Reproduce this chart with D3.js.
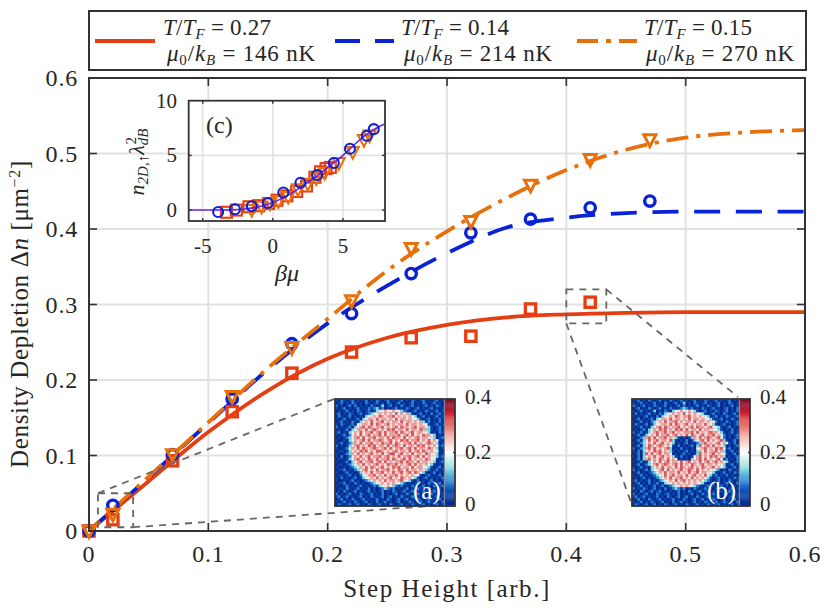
<!DOCTYPE html>
<html><head><meta charset="utf-8"><style>html,body{margin:0;padding:0;background:#fff}svg{display:block}text{font-family:"Liberation Serif",serif;fill:#262626}</style>
<script src="https://cdn.jsdelivr.net/npm/d3@7"></script></head><body><svg id="c" width="830" height="614"></svg>
<script>
const xTicks=[0,0.1,0.2,0.3,0.4,0.5,0.6], yTicks=[0,0.1,0.2,0.3,0.4,0.5,0.6];
const redX=[0,0.02,0.07,0.12,0.17,0.22,0.27,0.32,0.37,0.42];
const redY=[0,0.015,0.093,0.158,0.209,0.237,0.256,0.258,0.294,0.303];
const blueX=[0,0.02,0.07,0.12,0.17,0.22,0.27,0.32,0.37,0.42,0.47];
const blueY=[0,0.034,0.101,0.175,0.248,0.288,0.341,0.395,0.413,0.428,0.437];
const orangeX=blueX;
const orangeY=[0,0.022,0.101,0.178,0.243,0.305,0.374,0.41,0.458,0.492,0.518];
const curveX=[0,0.05,0.1,0.15,0.2,0.25,0.3,0.35,0.4,0.45,0.5,0.55,0.6];
const redCurve=[0,0.066,0.131,0.186,0.228,0.256,0.273,0.283,0.287,0.289,0.29,0.29,0.29];
const blueCurve=[0,0.071,0.143,0.214,0.275,0.325,0.368,0.402,0.415,0.421,0.423,0.423,0.423];
const orangeCurve=[0,0.072,0.144,0.216,0.281,0.345,0.397,0.441,0.478,0.505,0.521,0.528,0.531];
const insetXTicks=[-5,0,5], insetYTicks=[0,5,10];
const lineMu=[-6,-4,-3,-2,-1,0,1,2,3,4,5,6,7,8];
const lineN=[0,0,0.02,0.1,0.3,0.7,1.3,2.1,3.0,4.0,5.0,6.2,7.2,7.9];
const inBlueX=[-3.9,-2.7,-1.5,-0.36,0.75,1.97,3.16,4.35,5.5,6.7,7.2];
const inBlueY=[-0.18,0.07,0.35,0.65,1.6,2.5,3.2,4.3,5.6,6.8,7.4];
const inRedX=[-3.3,-2.6,-1.7,-1,-0.3,0.3,1,1.7,2.4,3,3.4,3.8,4.1];
const inRedY=[-0.2,0,0.3,0.4,0.6,0.9,1.3,1.7,2.2,3,3.5,3.8,3.9];
const inOrX=[-1.5,-0.8,-0.2,0.4,1.1,1.8,2.5,3.1,3.7,4.7,5.7,6.5,6.9];
const inOrY=[0,0.3,0.6,0.8,1.2,1.9,2.4,2.9,3.4,4.3,5.3,6.4,6.8];
const cmapStops=[0,0.05,0.09,0.135,0.18,0.2,0.25,0.3,0.35,0.4];
const cmapColors=["#062a8a","#0c47b0","#2a80d8","#80d8e0","#dff5f0","#ffffff","#f8c0b8","#e8706a","#c81e30","#700020"];
const heatStep=0.045;
const heatA=[
"1021012010120102101201012010210120101201","0120102101021012010210120101201021012010",
"2010120201010210130120102101201012010210","1012010120102123120101201021012010120101",
"0101201021012013456546543210120102101201","1201021012012345656565746563101201020120",
"0210120101034565765667565656430120101201","1012010120346657566565756656543101201020",
"0120102103565756675656657566565631201020","1021012045665757656756566575665654101201",
"2010120356757656675656757665675665310120","0101203466575676565767566575665763310120",
"1201034657566756757566757656756654301021","1012024657567566757566675675756576643010",
"0101235675756675665757665756567566553012","1001034656757566765675657675667565756410",
"0120123657566756576675765667575656765301","2010135675657675665756765756657675656412",
"1001246575765676567575667567575665765301","0110135657675657765656756657567576565410",
"1001236575656756575677567565756657654301","1020124657567566756756575667567575655312",
"0110134675657657566757656757565657654101","1001203567566756757565667576657566543012",
"0110123465756567565766756567575656431010","1001012346575765675657675665756654310120",
"0112010235675657566756576575665653201201","1001201013565756675657567567576431012010",
"0110120102456675657566756565654101201020","1020101201345657565675657656431012010102",
"1001012010123565657566567543102010120101","0112010210101234565656543201012010210120",
"1001201012010121345643212010210120102012","0110210120102010123212010120102101201010",
"0102101201012010120102101201201021012010","2010120102101201020101201021012010120101",
"1201201012010210120120102101201020101201","0120102101201012010210120120102101201020",
"1012010210120102012010120102101201210102","0210120120102101201021012010210120101201"];
const heatB=[
"0120102101201021012010120102101201012010","1012010120102101201301021012010120102101",
"2101201021012010120201012010210120101201","0120102101201021012321201021012010120102",
"1012010130102103456546431012010210120102","0201012010213456565746565431012010210120",
"1010120102034565765667565654301201021012","0120101203466575665657566565431012010210",
"1012010235657566756566575665654201021012","0210120134566575765675656657543101201012",
"1012010356757656675656757665675431012010","0101203465767565767575665756655431010201",
"2012013567567567565666757565676643101201","0120134657566756756575765675667564201012",
"1012367575667565310101365756765674201012","0120357567566573101020135675756567310120",
"1012356575675653010120102367565675641020","0120357656765641020101203756757565301012",
"2012367575656730102010104567565767412010","1020356576756531010120103657566756301201",
"0120375756756640101201013756567565410120","1020356575675653102010146756576756301012",
"0120367565765756401010356757565674120102","1012013465756756657567565756756756531012",
"0120123567567656757565765675665654301201","1012010356575665757656756576567564310120",
"2010120345675756567567657565654320102101","0120101234657566575657567566543101201021",
"1012010123457567566575675657431201020100","0101201012356575667565756564310120101021",
"1201012010234565756756565643210120102101","0120102012013456565656565431012010120102",
"1012010120120123456565432101201012010210","2010210120102012321201021012010120101201",
"0102101201201010120102101201201021012010","2010120102101201020101201021012010120101",
"1201201012010210120120102101201020101201","0120102101201012010210120120102101201020",
"1012010210120102012010120102101201210102","0210120120102101201021012010210120101201"];

const RED="#e63e12",BLUE="#0a22d6",OR="#e8700a",AX="#333",GRID="#e2e2e2",DASH="#666";
const svg=d3.select("#c");
const zip=(a,b)=>a.map((v,i)=>[v,b[i]]);
const x=d3.scaleLinear().domain([0,0.6]).range([89,805]);
const y=d3.scaleLinear().domain([0,0.6]).range([531,78]);
const FS=24;

svg.append("g").selectAll("line").data(xTicks.slice(1,-1)).join("line").attr("x1",d=>x(d)).attr("x2",d=>x(d)).attr("y1",y(0)).attr("y2",y(0.6)).attr("stroke",GRID).attr("stroke-width",2);
svg.append("g").selectAll("line").data(yTicks.slice(1,-1)).join("line").attr("y1",d=>y(d)).attr("y2",d=>y(d)).attr("x1",x(0)).attr("x2",x(0.6)).attr("stroke",GRID).attr("stroke-width",2);

const ln=d3.line().x(d=>x(d[0])).y(d=>y(d[1])).curve(d3.curveMonotoneX);
function curve(v,c,dash,period,phase,anchorX){
 const p=svg.append("path").attr("d",ln(zip(curveX,v))).attr("fill","none").attr("stroke",c).attr("stroke-width",3.8);
 if(dash){
  const n=p.node(),T=n.getTotalLength();let L=0;
  for(let s=0;s<=T;s+=0.5){if(n.getPointAtLength(s).x>=anchorX){L=s;break;}}
  p.attr("stroke-dasharray",dash).attr("stroke-dashoffset",((phase-L)%period+period)%period);
 }
}
curve(redCurve,RED);
curve(blueCurve,BLUE,"26 15.7",41.7,0,652.3);
curve(orangeCurve,OR,"22 8 4 8",42,32,698);

function squares(g,sx,sy,X,Y,s,w){g.append("g").selectAll("rect").data(zip(X,Y)).join("rect").attr("x",d=>sx(d[0])-s/2).attr("y",d=>sy(d[1])-s/2).attr("width",s).attr("height",s).attr("fill","none").attr("stroke",RED).attr("stroke-width",w);}
function circles(g,sx,sy,X,Y,r,w){g.append("g").selectAll("circle").data(zip(X,Y)).join("circle").attr("cx",d=>sx(d[0])).attr("cy",d=>sy(d[1])).attr("r",r).attr("fill","none").attr("stroke",BLUE).attr("stroke-width",w);}
function tris(g,sx,sy,X,Y,s,w){const p=d3.path();p.moveTo(-s/2,-s*0.42);p.lineTo(s/2,-s*0.42);p.lineTo(0,s*0.55);p.closePath();
 g.append("g").selectAll("path").data(zip(X,Y)).join("path").attr("d",p.toString()).attr("transform",d=>`translate(${sx(d[0])},${sy(d[1])})`).attr("fill","none").attr("stroke",OR).attr("stroke-width",w).attr("stroke-linejoin","miter").attr("stroke-miterlimit",3);}
squares(svg,x,y,redX,redY,10.3,3.3);
circles(svg,x,y,blueX,blueY,5.2,3.4);
tris(svg,x,y,orangeX,orangeY,12,3);

const dashCol=svg.append("g").attr("fill","none").attr("stroke",DASH).attr("stroke-width",1.8).attr("stroke-dasharray","7 6");
const bxA=[0.0075,0.037,0.005,0.05], bxB=[0.4,0.4335,0.275,0.32];
function guide(b,p1,p2){
 dashCol.append("rect").attr("x",x(b[0])).attr("y",y(b[3])).attr("width",x(b[1])-x(b[0])).attr("height",y(b[2])-y(b[3]));
 dashCol.append("line").attr("x1",p1[0]).attr("y1",p1[1]).attr("x2",p1[2]).attr("y2",p1[3]);
 dashCol.append("line").attr("x1",p2[0]).attr("y1",p2[1]).attr("x2",p2[2]).attr("y2",p2[3]);
}
guide(bxA,[x(bxA[0]),y(bxA[3]),334,399],[x(bxA[1]),y(bxA[2]),444,505]);
guide(bxB,[x(bxB[1]),y(bxB[3]),738,397],[x(bxB[0]),y(bxB[2]),632,505]);

svg.append("rect").attr("x",x(0)).attr("y",y(0.6)).attr("width",x(0.6)-x(0)).attr("height",y(0)-y(0.6)).attr("fill","none").attr("stroke",AX).attr("stroke-width",2);
const tk=svg.append("g").attr("stroke",AX).attr("stroke-width",1.6);
xTicks.slice(1,-1).forEach(t=>{tk.append("line").attr("x1",x(t)).attr("x2",x(t)).attr("y1",y(0)).attr("y2",y(0)-8);tk.append("line").attr("x1",x(t)).attr("x2",x(t)).attr("y1",y(0.6)).attr("y2",y(0.6)+8);});
yTicks.slice(1,-1).forEach(t=>{tk.append("line").attr("y1",y(t)).attr("y2",y(t)).attr("x1",x(0)).attr("x2",x(0)+8);tk.append("line").attr("y1",y(t)).attr("y2",y(t)).attr("x1",x(0.6)).attr("x2",x(0.6)-8);});
svg.append("g").selectAll("text").data(xTicks).join("text").attr("x",d=>x(d)).attr("y",562).attr("text-anchor","middle").attr("font-size",FS).attr("letter-spacing",0.8).text(d=>d);
svg.append("g").selectAll("text").data(yTicks).join("text").attr("x",78).attr("y",d=>y(d)+8).attr("text-anchor","end").attr("font-size",FS).attr("letter-spacing",0.8).text(d=>d);
svg.append("text").attr("x",447).attr("y",597).attr("text-anchor","middle").attr("font-size",25).attr("letter-spacing",1.55).text("Step Height [arb.]");
const yl=svg.append("text").attr("transform","translate(28,314) rotate(-90)").attr("text-anchor","middle").attr("font-size",25).attr("letter-spacing",0.65);
yl.append("tspan").text("Density Depletion Δ");yl.append("tspan").attr("font-style","italic").text("n");yl.append("tspan").text(" [μm");yl.append("tspan").attr("dy",-8).attr("font-size",16).text("−2");yl.append("tspan").attr("dy",8).text("]");

svg.append("rect").attr("x",89).attr("y",11).attr("width",717).attr("height",59).attr("fill","#fff").attr("stroke",AX).attr("stroke-width",2);
const legendItems=[["0.27","146",95,155,163,167,RED,null],["0.14","214",335,394,401,404,BLUE,"25 15"],["0.15","270",577,637,644,646,OR,"21 8 5 8"]];
legendItems.forEach(it=>{
 svg.append("line").attr("x1",it[2]).attr("x2",it[3]).attr("y1",41).attr("y2",41).attr("stroke",it[6]).attr("stroke-width",3.8).attr("stroke-dasharray",it[7]);
 const a=svg.append("text").attr("x",it[4]).attr("y",35).attr("font-size",23).attr("letter-spacing",0.2);
 a.append("tspan").attr("font-style","italic").text("T");a.append("tspan").text("/");a.append("tspan").attr("font-style","italic").text("T");
 a.append("tspan").attr("font-style","italic").attr("font-size",15).attr("dy",4).text("F");
 a.append("tspan").attr("dy",-4).text(" = "+it[0]);
 const b=svg.append("text").attr("x",it[5]).attr("y",61).attr("font-size",23).attr("letter-spacing",0.8);
 b.append("tspan").attr("font-style","italic").text("μ");b.append("tspan").attr("font-size",15).attr("dy",4).text("0");
 b.append("tspan").attr("dy",-4).text("/");b.append("tspan").attr("font-style","italic").text("k");
 b.append("tspan").attr("font-style","italic").attr("font-size",15).attr("dy",4).text("B");
 b.append("tspan").attr("dy",-4).text(" = "+it[1]+" nK");
});

const ix=d3.scaleLinear().domain([-6,8]).range([188.7,385]);
const iy=d3.scaleLinear().domain([-1,10]).range([221,100.7]);
svg.append("rect").attr("x",ix(-6)).attr("y",iy(10)).attr("width",ix(8)-ix(-6)).attr("height",iy(-1)-iy(10)).attr("fill","#fff");
svg.append("g").selectAll("line").data(insetXTicks).join("line").attr("x1",d=>ix(d)).attr("x2",d=>ix(d)).attr("y1",iy(-1)).attr("y2",iy(10)).attr("stroke",GRID).attr("stroke-width",1.6);
svg.append("g").selectAll("line").data(insetYTicks.slice(0,2)).join("line").attr("y1",d=>iy(d)).attr("y2",d=>iy(d)).attr("x1",ix(-6)).attr("x2",ix(8)).attr("stroke",GRID).attr("stroke-width",1.6);
squares(svg,ix,iy,inRedX,inRedY,11,2.1);
tris(svg,ix,iy,inOrX,inOrY,12,2.1);
svg.append("path").attr("d",d3.line().x(d=>ix(d[0])).y(d=>iy(d[1])).curve(d3.curveMonotoneX)(zip(lineMu,lineN))).attr("fill","none").attr("stroke","#6a22f0").attr("stroke-width",1.6);
circles(svg,ix,iy,inBlueX,inBlueY,5,2.1);
svg.append("rect").attr("x",ix(-6)).attr("y",iy(10)).attr("width",ix(8)-ix(-6)).attr("height",iy(-1)-iy(10)).attr("fill","none").attr("stroke",AX).attr("stroke-width",1.8);
const itk=svg.append("g").attr("stroke",AX).attr("stroke-width",1.4);
insetXTicks.forEach(t=>{itk.append("line").attr("x1",ix(t)).attr("x2",ix(t)).attr("y1",iy(-1)).attr("y2",iy(-1)-3);itk.append("line").attr("x1",ix(t)).attr("x2",ix(t)).attr("y1",iy(10)).attr("y2",iy(10)+3);});
insetYTicks.slice(0,2).forEach(t=>{itk.append("line").attr("y1",iy(t)).attr("y2",iy(t)).attr("x1",ix(-6)).attr("x2",ix(-6)+3);itk.append("line").attr("y1",iy(t)).attr("y2",iy(t)).attr("x1",ix(8)).attr("x2",ix(8)-3);});
svg.append("g").selectAll("text").data(insetXTicks).join("text").attr("x",d=>ix(d)).attr("y",253).attr("text-anchor","middle").attr("font-size",21).text(d=>d===-5?"-5":d);
svg.append("g").selectAll("text").data(insetYTicks).join("text").attr("x",177).attr("y",d=>iy(d)+7).attr("text-anchor","end").attr("font-size",21).text(d=>d);
svg.append("text").attr("x",287).attr("y",281).attr("text-anchor","middle").attr("font-size",24).attr("font-style","italic").text("βμ");
svg.append("text").attr("x",206).attr("y",133).attr("font-size",24).text("(c)");
const il=svg.append("text").attr("transform","translate(144,162) rotate(-90)").attr("text-anchor","middle").attr("font-size",22);
il.append("tspan").attr("font-style","italic").text("n");il.append("tspan").attr("font-style","italic").attr("font-size",15).attr("dy",4).text("2D,↑");
il.append("tspan").attr("dy",-4).attr("font-style","italic").text("λ");il.append("tspan").attr("font-size",15).attr("dy",4).attr("font-style","italic").text("dB");
il.append("tspan").attr("font-size",15).attr("dy",-12).attr("dx",-16).text("2");

const cmap=d3.scaleLinear().domain(cmapStops).range(cmapColors).clamp(true);
function heat(mat,x0,x1,barX1,label,labelX){
 const top=399,bot=506;
 const g=svg.append("g");
 const hx=d3.scaleBand().domain(d3.range(mat[0].length)).range([x0,x1]);
 const hy=d3.scaleBand().domain(d3.range(mat.length)).range([top,bot]);
 g.append("rect").attr("x",x0).attr("y",top).attr("width",x1-x0).attr("height",bot-top).attr("fill",cmap(0));
 mat.forEach((row,r)=>{
  g.append("g").selectAll("rect").data(row.split("")).join("rect").attr("x",(d,i)=>hx(i)).attr("y",hy(r)).attr("width",hx.bandwidth()+0.3).attr("height",hy.bandwidth()+0.3).attr("fill",d=>cmap(+d*heatStep));
 });
 const cb=d3.scaleLinear().domain([0,0.4]).range([bot,top]);
 g.append("g").selectAll("rect").data(d3.range(0,0.4,0.004)).join("rect").attr("x",x1+1).attr("width",barX1-x1-1).attr("y",d=>cb(d+0.004)).attr("height",(bot-top)/100+0.3).attr("fill",d=>cmap(d));
 g.append("rect").attr("x",x0).attr("y",top).attr("width",barX1-x0).attr("height",bot-top).attr("fill","none").attr("stroke",AX).attr("stroke-width",1.8);
 g.append("line").attr("x1",x1).attr("x2",x1).attr("y1",top).attr("y2",bot).attr("stroke","#555").attr("stroke-width",1);
 g.append("line").attr("x1",barX1).attr("x2",barX1-2).attr("y1",cb(0.2)).attr("y2",cb(0.2)).attr("stroke",AX).attr("stroke-width",1.4);
 g.append("g").selectAll("text").data([0,0.2,0.4]).join("text").attr("x",barX1+10).attr("y",d=>d===0?bot+5:d===0.2?cb(d)+6:top+5).attr("font-size",21).text(d=>d);
 g.append("text").attr("x",labelX).attr("y",499).attr("font-size",25).style("fill","#fff").text(label);
}
heat(heatA,335,444,455,"(a)",413);
heat(heatB,632,739,750,"(b)",707);
</script></body></html>
